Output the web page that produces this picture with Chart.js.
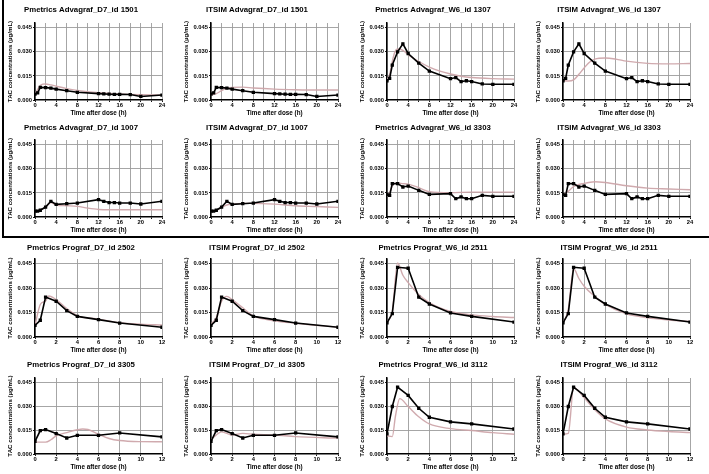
<!DOCTYPE html>
<html><head><meta charset="utf-8">
<script src="https://cdn.jsdelivr.net/npm/chart.js@4/dist/chart.umd.min.js"></script>
<style>
html,body{margin:0;padding:0;background:#fff;width:709px;height:474px;overflow:hidden;position:relative}
canvas{position:absolute}
.frame{position:absolute;background:#000}
</style></head><body>
<div class="frame" style="left:2px;top:0;width:1.5px;height:237px"></div>
<div class="frame" style="left:2px;top:236px;width:707px;height:1.5px"></div>
<script>
// ---- sampling times ----
const advTimes = [0,0.5,1,2,3,4,6,8,12,13,14,15,16,18,20,24];
const progTimes = [0,0.5,1,2,3,4,6,8,12];

// ---- observed concentrations (µg/mL) ----
const obs1501 = [0.0037,0.0045,0.0079,0.0077,0.0074,0.0068,0.0058,0.0048,0.0040,0.0038,0.0036,0.0035,0.0035,0.0034,0.0022,0.0031];
const obs1307 = [0.0120,0.0135,0.0218,0.0300,0.0350,0.0290,0.0230,0.0180,0.0133,0.0140,0.0115,0.0120,0.0115,0.0100,0.0098,0.0098];
const obs1007 = [0.0037,0.0037,0.0042,0.0062,0.0098,0.0079,0.0083,0.0087,0.0108,0.0098,0.0090,0.0090,0.0087,0.0087,0.0081,0.0098];
const obs3303 = [0.0141,0.0135,0.0208,0.0208,0.0187,0.0193,0.0166,0.0141,0.0146,0.0114,0.0125,0.0114,0.0114,0.0135,0.0129,0.0129];
const obs2502 = [0.0072,0.0103,0.0246,0.0220,0.0162,0.0127,0.0107,0.0086,0.0060];
const obs2511 = [0.0087,0.0144,0.0429,0.0423,0.0245,0.0203,0.0148,0.0127,0.0092];
const obs3305 = [0.0080,0.0148,0.0154,0.0129,0.0101,0.0118,0.0118,0.0133,0.0108];
const obs3112 = [0.0127,0.0300,0.0422,0.0370,0.0289,0.0232,0.0203,0.0190,0.0158];

// ---- predicted curves (times, values) ----
const predT1 = [0,0.5,1,1.5,2,3,4,6,8,12,16,20,24];
const pred1  = [0.0037,0.0065,0.0090,0.0099,0.0100,0.0094,0.0086,0.0071,0.0060,0.0046,0.0038,0.0033,0.0030];
const predT2 = [0,1,2,3,4,6,8,12,16,20,24];
const pred2  = [0.0031,0.0040,0.0058,0.0072,0.0079,0.0080,0.0075,0.0068,0.0064,0.0062,0.0062];
const predT3 = [0,0.5,1,1.5,2,3,4,6,8,10,12,14,16,20,24];
const pred3  = [0.0120,0.0160,0.0240,0.0300,0.0318,0.0310,0.0282,0.0240,0.0205,0.0180,0.0162,0.0148,0.0140,0.0133,0.0130];
const predT4 = [0,1,2,3,4,5,6,8,10,12,16,20,24];
const pred4  = [0.0122,0.0118,0.0125,0.0160,0.0200,0.0235,0.0255,0.0262,0.0255,0.0242,0.0228,0.0225,0.0228];
const predT5 = [0,1,2,3,4,6,8,10,12,14,16,20,24];
const pred5  = [0.0037,0.0045,0.0062,0.0090,0.0075,0.0070,0.0066,0.0055,0.0047,0.0045,0.0045,0.0045,0.0045];
const predT6 = [0,1,2,3,4,6,8,12,16,20,24];
const pred6  = [0.0035,0.0040,0.0060,0.0075,0.0080,0.0085,0.0085,0.0080,0.0070,0.0065,0.0060];
const predT7 = [0,0.5,1,1.5,2,3,4,6,8,12,16,20,24];
const pred7  = [0.0140,0.0150,0.0195,0.0210,0.0212,0.0208,0.0205,0.0183,0.0158,0.0152,0.0155,0.0155,0.0155];
const predT8 = [0,1,2,4,6,8,12,16,20,24];
const pred8  = [0.0140,0.0160,0.0190,0.0210,0.0220,0.0215,0.0195,0.0180,0.0175,0.0170];
const predT9 = [0,0.5,1,1.3,2,3,4,6,8,10,12];
const pred9  = [0.0072,0.0200,0.0222,0.0252,0.0230,0.0175,0.0132,0.0110,0.0088,0.0079,0.0074];
const predT10 = [0,0.5,1,1.5,2,3,4,6,8,12];
const pred10  = [0.0080,0.0120,0.0220,0.0250,0.0230,0.0180,0.0130,0.0100,0.0085,0.0060];
const predT11 = [0,0.5,1,1.5,2,3,4,6,8,10,12];
const pred11  = [0.0090,0.0160,0.0455,0.0380,0.0335,0.0262,0.0212,0.0157,0.0136,0.0126,0.0120];
const predT12 = [0,0.5,1,1.5,2,3,4,6,8,10,12];
const pred12  = [0.0085,0.0170,0.0420,0.0360,0.0312,0.0250,0.0200,0.0142,0.0118,0.0105,0.0095];
const predT13 = [0,1,1.5,2,3,4,4.5,5,6,7,8,10,12];
const pred13  = [0.0075,0.0075,0.0090,0.0115,0.0135,0.0153,0.0158,0.0155,0.0125,0.0098,0.0085,0.0078,0.0077];
const predT14 = [0,0.5,1,2,3,4,6,8,12];
const pred14  = [0.0090,0.0120,0.0140,0.0120,0.0130,0.0125,0.0120,0.0110,0.0100];
const predT15 = [0,0.5,0.8,1.2,2,3,4,6,8,10,12];
const pred15  = [0.0115,0.0110,0.0240,0.0350,0.0300,0.0235,0.0190,0.0160,0.0148,0.0135,0.0125];
const predT16 = [0,0.5,1,2,3,4,6,8,10,12];
const pred16  = [0.0125,0.0130,0.0420,0.0355,0.0280,0.0222,0.0170,0.0152,0.0142,0.0135];

const titles = [
 'Pmetrics Advagraf_D7_id 1501','ITSIM Advagraf_D7_id 1501','Pmetrics Advagraf_W6_id 1307','ITSIM Advagraf_W6_id 1307',
 'Pmetrics Advagraf_D7_id 1007','ITSIM Advagraf_D7_id 1007','Pmetrics Advagraf_W6_id 3303','ITSIM Advagraf_W6_id 3303',
 'Pmetrics Prograf_D7_id 2502','ITSIM Prograf_D7_id 2502','Pmetrics Prograf_W6_id 2511','ITSIM Prograf_W6_id 2511',
 'Pmetrics Prograf_D7_id 3305','ITSIM Prograf_D7_id 3305','Pmetrics Prograf_W6_id 3112','ITSIM Prograf_W6_id 3112'
];
const yTitle = 'TAC concentrations (µg/mL)';
const xTitle = 'Time after dose (h)';
const yTicks = [0, 0.015, 0.030, 0.045];

const panels = [
 [advTimes,obs1501,predT1,pred1,24],[advTimes,obs1501,predT2,pred2,24],[advTimes,obs1307,predT3,pred3,24],[advTimes,obs1307,predT4,pred4,24],
 [advTimes,obs1007,predT5,pred5,24],[advTimes,obs1007,predT6,pred6,24],[advTimes,obs3303,predT7,pred7,24],[advTimes,obs3303,predT8,pred8,24],
 [progTimes,obs2502,predT9,pred9,12],[progTimes,obs2502,predT10,pred10,12],[progTimes,obs2511,predT11,pred11,12],[progTimes,obs2511,predT12,pred12,12],
 [progTimes,obs3305,predT13,pred13,12],[progTimes,obs3305,predT14,pred14,12],[progTimes,obs3112,predT15,pred15,12],[progTimes,obs3112,predT16,pred16,12]
];

// ---- layout ----
const colLeft = [35,211,387,563];
const rowTop = [23,140,259,378];
const rowH = [77,77,78,76];
const titleOff = [14,12,11,13];
const plotW = 127, yAxW = 35, xAxH = 22, titleH = 18;
const FONT = "'Liberation Sans', Arial, sans-serif";
const TFS = 7.8, TLH = TFS*1.2;

panels.forEach((p, i) => {
  const [tt, ov, pt, pv, xmax] = p;
  const r = Math.floor(i/4), c = i%4;
  const cv = document.createElement('canvas');
  const W = yAxW + plotW + yAxW, H = titleH + rowH[r] + xAxH;
  cv.width = W; cv.height = H;
  cv.style.left = (colLeft[c]-yAxW)+'px';
  cv.style.top = (rowTop[r]-titleH)+'px';
  cv.style.width = W+'px'; cv.style.height = H+'px';
  document.body.appendChild(cv);
  const tpTop = Math.max(0, titleH - titleOff[r] - TLH/2);
  new Chart(cv, {
    type: 'line',
    data: {
      datasets: [
        { data: tt.map((t,k)=>({x:t,y:ov[k]})), borderColor:'#000', backgroundColor:'#000', borderWidth:1.6,
          pointRadius:1.2, pointStyle:'rect', tension:0 },
        { data: pt.map((t,k)=>({x:t,y:pv[k]})), borderColor:'rgba(205,165,170,0.95)', borderWidth:1.4,
          pointRadius:0, cubicInterpolationMode:'monotone' }
      ]
    },
    options: {
      responsive:false, animation:false, devicePixelRatio:1,
      layout:{padding:{left:0,right:yAxW,top:0,bottom:0}},
      plugins:{
        legend:{display:false}, tooltip:{enabled:false},
        title:{display:true, text:titles[i], color:'#000', font:{family:FONT,size:TFS,weight:'bold',lineHeight:1.2},
               padding:{top:tpTop,bottom:titleH-TLH-tpTop}}
      },
      scales:{
        x:{ type:'linear', min:0, max:xmax,
            afterFit:(s)=>{s.height=xAxH; s.paddingLeft=0; s.paddingRight=0;},
            ticks:{stepSize:2, autoSkip:false, maxRotation:0, padding:0, color:'#000',
                   font:{family:FONT,size:5.8,weight:'bold'},
                   callback:(v)=> (xmax===24 && v%4!==0) ? '' : String(v)},
            grid:{color:'#9c9c9c', lineWidth:0.9, tickLength:2, tickColor:'#000'},
            border:{color:'#000', width:1.5},
            title:{display:true, text:xTitle, color:'#000', font:{family:FONT,size:6.3,weight:'bold',lineHeight:1.2}, padding:{top:0,bottom:4.8}}
        },
        y:{ type:'linear', min:0, max:0.048,
            afterFit:(s)=>{s.width=yAxW; s.paddingTop=0; s.paddingBottom=0;},
            afterBuildTicks:(s)=>{ s.ticks = yTicks.map(v=>({value:v})); },
            ticks:{padding:1, color:'#000', font:{family:FONT,size:5.8,weight:'bold'}, callback:(v)=>Number(v).toFixed(3)},
            grid:{color:(ctx)=> ctx.tick && ctx.tick.value===0 ? 'rgba(0,0,0,0)' : '#9c9c9c', lineWidth:0.9, tickLength:2, tickColor:'#000'},
            border:{color:'#000', width:1.5},
            title:{display:true, text:yTitle, color:'#000', font:{family:FONT,size:6.1,weight:'bold',lineHeight:1.2}, padding:{top:6.5,bottom:0}}
        }
      }
    }
  });
});
</script>
</body></html>
